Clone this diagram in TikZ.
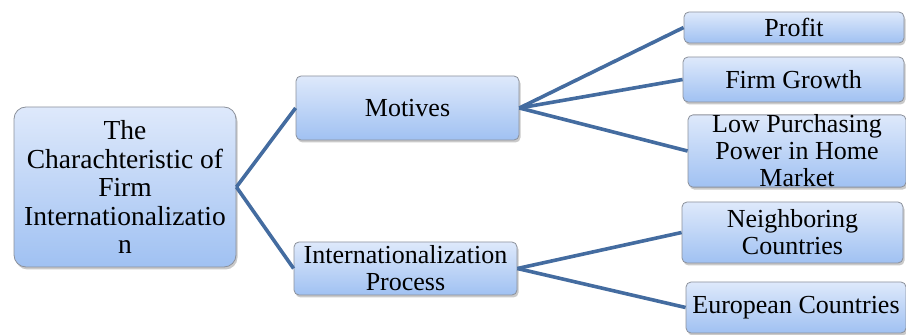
\documentclass[tikz,border=0pt]{standalone}
\usepackage{fontspec}
\setmainfont{Liberation Serif}
\usetikzlibrary{shadows}
\definecolor{linkblue}{RGB}{68,108,160}
\definecolor{boxtop}{RGB}{222,233,251}
\definecolor{boxbot}{RGB}{160,193,242}
\definecolor{boxline}{RGB}{140,145,155}
\tikzset{
  box/.style={draw=boxline, line width=0.8pt, rounded corners=5pt,
    top color=boxtop, bottom color=boxbot, inner sep=0pt, align=center,
    drop shadow={shadow xshift=1.5pt, shadow yshift=-2.5pt, opacity=0.35, fill=black!60},
    font=\fontsize{26}{27}\selectfont},
  link/.style={draw=linkblue, line width=3.6pt}
}
\begin{document}
\begin{tikzpicture}[x=1pt,y=1pt]
\useasboundingbox (0,0) rectangle (906,335);
\node[box, minimum width=222pt, minimum height=160pt, rounded corners=12pt, font=\fontsize{27.5}{28.5}\selectfont] (root) at (125,148)
  {The\\Charachteristic of\\Firm\\Internationalizatio\\n};
\node[box, minimum width=223pt, minimum height=64pt] (mot) at (407.5,227) {Motives};
\node[box, minimum width=223pt, minimum height=53pt] (proc) at (405.5,66.5) {Internationalization\\Process};
\node[box, minimum width=220pt, minimum height=31pt] (profit) at (794,307.5) {Profit};
\node[box, minimum width=221pt, minimum height=45pt] (growth) at (793.5,255.5) {Firm Growth};
\node[box, minimum width=218pt, minimum height=68pt] (low) at (797,184) {Low Purchasing\\Power in Home\\Market};
\node[box, minimum width=221pt, minimum height=61pt] (neigh) at (792.5,102.5) {Neighboring\\Countries};
\node[box, minimum width=220pt, minimum height=51pt] (euro) at (796,27.5) {European Countries};
\draw[link] (root.east) -- (mot.west);
\draw[link] (root.east) -- (proc.west);
\draw[link] (mot.east) -- (profit.west);
\draw[link] (mot.east) -- (growth.west);
\draw[link] (mot.east) -- (low.west);
\draw[link] (proc.east) -- (neigh.west);
\draw[link] (proc.east) -- (euro.west);
\end{tikzpicture}
\end{document}
